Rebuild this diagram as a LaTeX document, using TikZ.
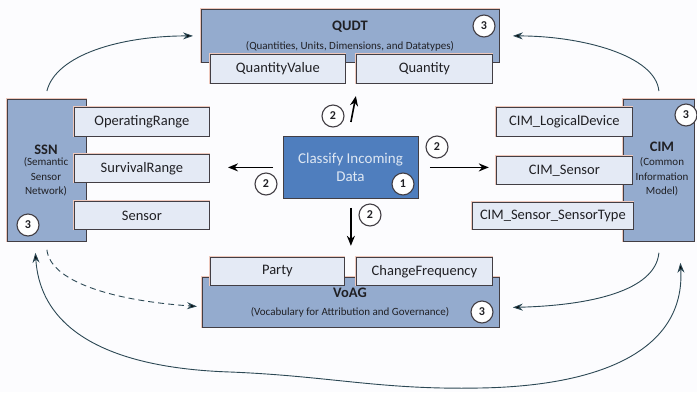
\documentclass[tikz,border=0pt]{standalone}
\usepackage{fontspec}
\setmainfont{Carlito}
\usetikzlibrary{arrows.meta}

\definecolor{boxblue}{RGB}{148,171,206}
\definecolor{subfill}{RGB}{228,234,245}
\definecolor{corefill}{RGB}{79,126,190}
\definecolor{edgegray}{RGB}{66,62,68}
\definecolor{halo}{RGB}{238,200,188}
\definecolor{inktext}{RGB}{32,32,36}
\definecolor{coretext}{RGB}{222,231,243}
\definecolor{linkcol}{RGB}{44,72,84}
\definecolor{paper}{RGB}{252,252,254}

\begin{document}
\begin{tikzpicture}[x=1pt,y=-1pt,
  mainbox/.style={draw=edgegray, line width=0.8pt, fill=boxblue, anchor=north west,
    inner sep=0pt, preaction={draw=halo, line width=2pt}},
  subbox/.style={draw=edgegray, line width=0.8pt, fill=subfill, anchor=north west,
    inner sep=0pt, text=inktext, font=\fontsize{14.5}{16}\selectfont,
    preaction={draw=halo, line width=2pt}},
  corebox/.style={draw=edgegray, line width=0.8pt, fill=corefill, anchor=north west, inner sep=0pt},
  title/.style={text=inktext, font=\bfseries\fontsize{14.5}{16}\selectfont, inner sep=0pt},
  subtitle/.style={text=inktext, font=\fontsize{11}{14.5}\selectfont, inner sep=0pt, align=center},
  badge/.style={circle, draw=edgegray, line width=1.1pt, fill=white, minimum size=22pt,
    inner sep=0pt, text=inktext, font=\bfseries\fontsize{12}{12}\selectfont},
  corearrow/.style={draw=black, line width=1.6pt, -{Stealth[length=10pt,width=8pt]}},
  link/.style={draw=linkcol, line width=0.9pt, -{Stealth[length=10pt,width=7pt,fill=black]}},
]
\useasboundingbox (0,0) rectangle (697,392);
\fill[paper] (0,0) rectangle (697,392);

% QUDT
\node[mainbox, minimum width=298pt, minimum height=53pt] (qudt) at (201,9) {};
\node[title] (qudtT) at (350,27) {QUDT};
\node[subtitle] (qudtS) at (350,46) {(Quantities, Units, Dimensions, and Datatypes)};
\node[subbox, minimum width=135pt, minimum height=29pt] (qval) at (210,54) {QuantityValue};
\node[subbox, minimum width=136pt, minimum height=29pt] (qty) at (356,54) {Quantity};
\node[badge] (qudtB) at (484,26) {3};

% SSN
\node[mainbox, minimum width=79pt, minimum height=142pt] (ssn) at (7,99) {};
\node[title] (ssnT) at (46,150) {SSN};
\node[subtitle] (ssnS) at (46,177) {(Semantic\\Sensor\\Network)};
\node[subbox, minimum width=135pt, minimum height=29pt] (oprange) at (74,107) {OperatingRange};
\node[subbox, minimum width=135pt, minimum height=28pt] (survrange) at (74,154) {SurvivalRange};
\node[subbox, minimum width=135pt, minimum height=28pt] (sensor) at (74,201) {Sensor};
\node[badge] (ssnB) at (28,225) {3};

% CIM
\node[mainbox, minimum width=71pt, minimum height=142pt] (cim) at (623,99) {};
\node[title] (cimT) at (662,147) {CIM};
\node[subtitle] (cimS) at (662,177) {(Common\\Information\\Model)};
\node[subbox, minimum width=136pt, minimum height=29pt] (logdev) at (496,107) {CIM\_LogicalDevice};
\node[subbox, minimum width=136pt, minimum height=28pt] (cimsensor) at (496,156) {CIM\_Sensor};
\node[subbox, minimum width=161pt, minimum height=27pt] (sensortype) at (472,202) {CIM\_Sensor\_SensorType};
\node[badge] (cimB) at (686,115) {3};

% VoAG
\node[mainbox, minimum width=297pt, minimum height=50pt] (voag) at (202,277) {};
\node[title] (voagT) at (350,293) {VoAG};
\node[subtitle] (voagS) at (350,312) {(Vocabulary for Attribution and Governance)};
\node[subbox, minimum width=134pt, minimum height=28pt] (party) at (210,257) {Party};
\node[subbox, minimum width=136pt, minimum height=28pt] (chfreq) at (356,257) {ChangeFrequency};
\node[badge] (voagB) at (482,312) {3};

% central classification step
\node[corebox, minimum width=135pt, minimum height=62pt] (core) at (283,136) {};
\node[text=coretext, align=center, inner sep=0pt, font=\fontsize{15}{18}\selectfont] (coreT) at (350.5,167) {Classify Incoming\\Data};
\node[badge] (coreB) at (403,184) {1};

% dispatch arrows
\draw[corearrow] ([yshift=14pt]core.north) -- ([xshift=5pt,yshift=40pt]core.north);
\draw[corearrow] ([xshift=-10pt]core.west) -- ([xshift=-55pt]core.west);
\draw[corearrow] ([xshift=11pt]core.east) -- ([xshift=70pt]core.east);
\draw[corearrow] ([yshift=-9pt]core.south) -- ([yshift=-47pt]core.south);
\node[badge] (upB) at (333,116) {2};
\node[badge] (leftB) at (266,184) {2};
\node[badge] (rightB) at (437,147) {2};
\node[badge] (downB) at (370,215) {2};

% links between vocabularies
\draw[link] ([yshift=8pt]ssn.north) .. controls +(9,-36) and +(-73,0) .. ([xshift=-8pt]qudt.west);
\draw[link] ([yshift=8pt]cim.north) .. controls +(-3.5,-36) and +(68,0) .. ([xshift=13pt]qudt.east);
\draw[link, dashed, dash pattern=on 6pt off 4pt] ([yshift=-8pt]ssn.south) .. controls +(3.5,31) and +(-87,-6) .. ([xshift=-5pt,yshift=-4pt]voag.west);
\draw[link] ([yshift=-11pt]cim.south) .. controls +(-3.5,38) and +(78,-2) .. ([xshift=13pt,yshift=-5pt]voag.east);
\coordinate (lowL) at (230,372);
\coordinate (lowR) at (480,388);
\draw[link, {Stealth[length=10pt,width=7pt,fill=black]}-{Stealth[length=10pt,width=7pt,fill=black]}]
  ([xshift=-11.5pt,yshift=-11pt]ssn.south) .. controls +(5,78) and (110,368) .. (lowL)
  .. controls (330,376) and (380,390) .. (lowR)
  .. controls (600,386) and +(5,88) .. ([xshift=21.5pt,yshift=-21pt]cim.south);
\end{tikzpicture}
\end{document}
